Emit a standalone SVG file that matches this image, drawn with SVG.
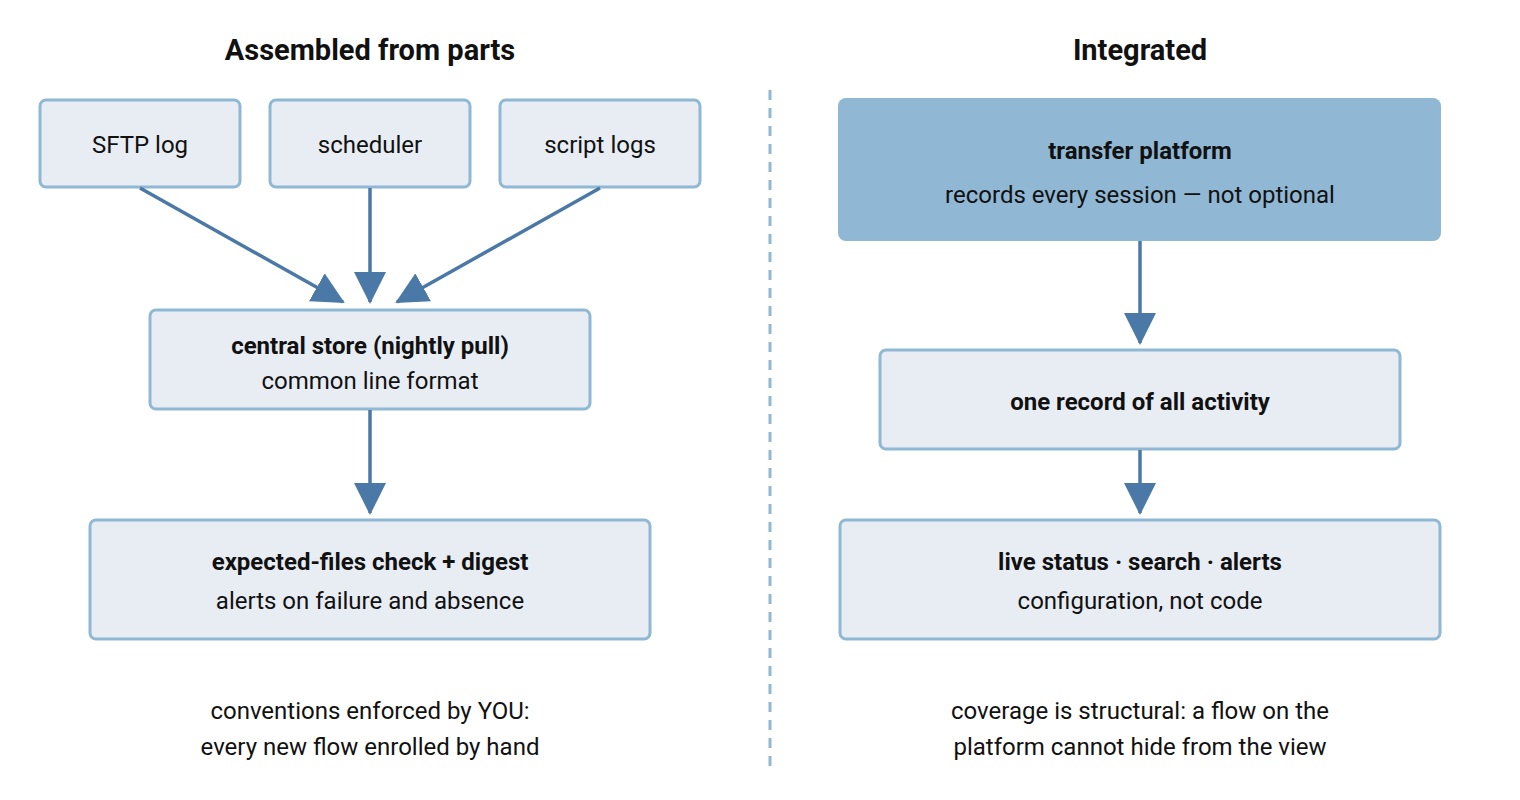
<svg xmlns="http://www.w3.org/2000/svg" width="1520" height="800" viewBox="0 0 1520 800">
<style>
text{font-family:Roboto,"Liberation Sans",sans-serif;fill:#111;text-anchor:middle}
.t{font-size:29px;font-weight:bold}
.n{font-size:24px}
.b{font-size:24px;font-weight:bold}
.box{fill:#e8edf4;stroke:#8fb8d4;stroke-width:3}
.c{stroke:#4a79a8;stroke-width:3.5;fill:none;marker-end:url(#a)}
</style>
<defs><marker id="a" markerUnits="userSpaceOnUse" markerWidth="32" markerHeight="32" refX="30" refY="16" orient="auto"><path d="M0,0 L32,16 L0,32 Z" fill="#4a79a8"/></marker></defs>
<rect width="1520" height="800" fill="#fff"/>
<text class="t" x="370" y="60">Assembled from parts</text>
<text class="t" x="1140" y="60">Integrated</text>
<line x1="770" y1="90" x2="770" y2="770" stroke="#8fb8d4" stroke-width="3" stroke-dasharray="10,8"/>
<g id="sftp"><rect class="box" x="40" y="100" width="200" height="87" rx="6"/><text class="n" x="140" y="153">SFTP log</text></g>
<g id="sched"><rect class="box" x="270" y="100" width="200" height="87" rx="6"/><text class="n" x="370" y="153">scheduler</text></g>
<g id="script"><rect class="box" x="500" y="100" width="200" height="87" rx="6"/><text class="n" x="600" y="153">script logs</text></g>
<g id="central"><rect class="box" x="150" y="310" width="440" height="99" rx="6"/><text class="b" x="370" y="354">central store (nightly pull)</text><text class="n" x="370" y="389">common line format</text></g>
<g id="expected"><rect class="box" x="90" y="520" width="560" height="119" rx="6"/><text class="b" x="370" y="570">expected-files check + digest</text><text class="n" x="370" y="609">alerts on failure and absence</text></g>
<g id="transfer"><rect x="838" y="98" width="603" height="143" rx="8" fill="#90b8d4"/><text class="b" x="1140" y="159">transfer platform</text><text class="n" x="1140" y="203">records every session — not optional</text></g>
<g id="record"><rect class="box" x="880" y="350" width="520" height="99" rx="6"/><text class="b" x="1140" y="410">one record of all activity</text></g>
<g id="live"><rect class="box" x="840" y="520" width="600" height="119" rx="6"/><text class="b" x="1140" y="570">live status · search · alerts</text><text class="n" x="1140" y="609">configuration, not code</text></g>
<g id="connectors">
<line class="c" x1="140" y1="188" x2="343" y2="302"/>
<line class="c" x1="370" y1="188" x2="370" y2="302"/>
<line class="c" x1="600" y1="188" x2="397" y2="302"/>
<line class="c" x1="370" y1="410" x2="370" y2="513"/>
<line class="c" x1="1140" y1="241" x2="1140" y2="343"/>
<line class="c" x1="1140" y1="450" x2="1140" y2="513"/>
</g>
<text class="n" x="370" y="719">conventions enforced by YOU:</text>
<text class="n" x="370" y="755">every new flow enrolled by hand</text>
<text class="n" x="1140" y="719">coverage is structural: a flow on the</text>
<text class="n" x="1140" y="755">platform cannot hide from the view</text>
</svg>
